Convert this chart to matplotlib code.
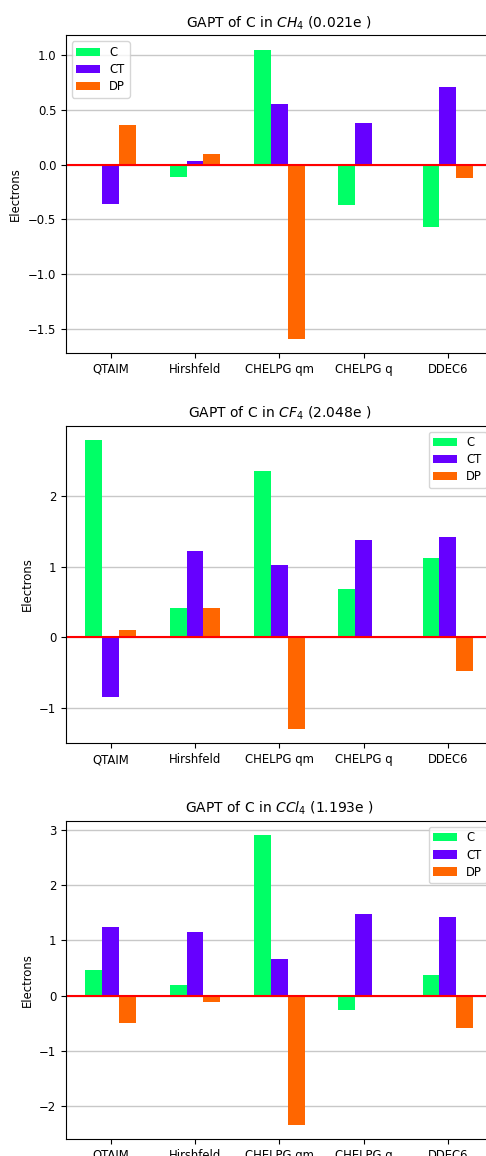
import numpy as np
import matplotlib
matplotlib.use("Agg")
import matplotlib.pyplot as plt

methods = ['QTAIM', 'Hirshfeld', 'CHELPG qm', 'CHELPG q', 'DDEC6']
series = ['C', 'CT', 'DP']
colors = ['#00ff66', '#6600ff', '#ff6600']

# CH4, GAPT 0.021e
ch4_c = [0.010, -0.113, 1.049, -0.363, -0.570]
ch4_ct = [-0.354, 0.030, 0.552, 0.378, 0.707]
ch4_dp = [0.360, 0.095, -1.588, 0.006, -0.122]

# CF4, GAPT 2.048e
cf4_c = [2.794, 0.411, 2.350, 0.686, 1.130]
cf4_ct = [-0.842, 1.229, 1.021, 1.376, 1.418]
cf4_dp = [0.109, 0.421, -1.300, -0.010, -0.473]

# CCl4, GAPT 1.193e
ccl4_c = [0.467, 0.194, 2.903, -0.261, 0.370]
ccl4_ct = [1.236, 1.145, 0.655, 1.479, 1.430]
ccl4_dp = [-0.503, -0.121, -2.339, 0.000, -0.582]

titles = [r'GAPT of C in $CH_4$ (0.021e )',
          r'GAPT of C in $CF_4$ (2.048e )',
          r'GAPT of C in $CCl_4$ (1.193e )']
data = [(ch4_c, ch4_ct, ch4_dp), (cf4_c, cf4_ct, cf4_dp), (ccl4_c, ccl4_ct, ccl4_dp)]
legend_loc = ['upper left', 'upper right', 'upper right']

fig = plt.figure(figsize=(4.86, 11.56), dpi=100)
# right edge of the axes lies just past the figure, as in the original crop
boxes = [[0.1358, 0.6946, 0.8776, 0.2747],
         [0.1358, 0.3570, 0.8776, 0.2747],
         [0.1358, 0.0147, 0.8776, 0.2751]]

x = np.arange(len(methods))
w = 0.2
for i in range(3):
    ax = fig.add_axes(boxes[i])
    for j in range(3):
        ax.bar(x + (j - 1) * w, data[i][j], w, color=colors[j], label=series[j])
    ax.axhline(0, color='red', lw=1.5)
    ax.set_axisbelow(True)
    ax.yaxis.grid(True, color='#c8c8c8', lw=1)
    ax.set_xticks(x)
    ax.set_xticklabels(methods)
    ax.tick_params(labelsize=8.4)
    ax.set_ylabel('Electrons', fontsize=8.4)
    ax.set_title(titles[i], fontsize=10)
    ax.legend(loc=legend_loc[i], fontsize=8.4, labelspacing=0.35)

plt.savefig('out.png', dpi=100)
